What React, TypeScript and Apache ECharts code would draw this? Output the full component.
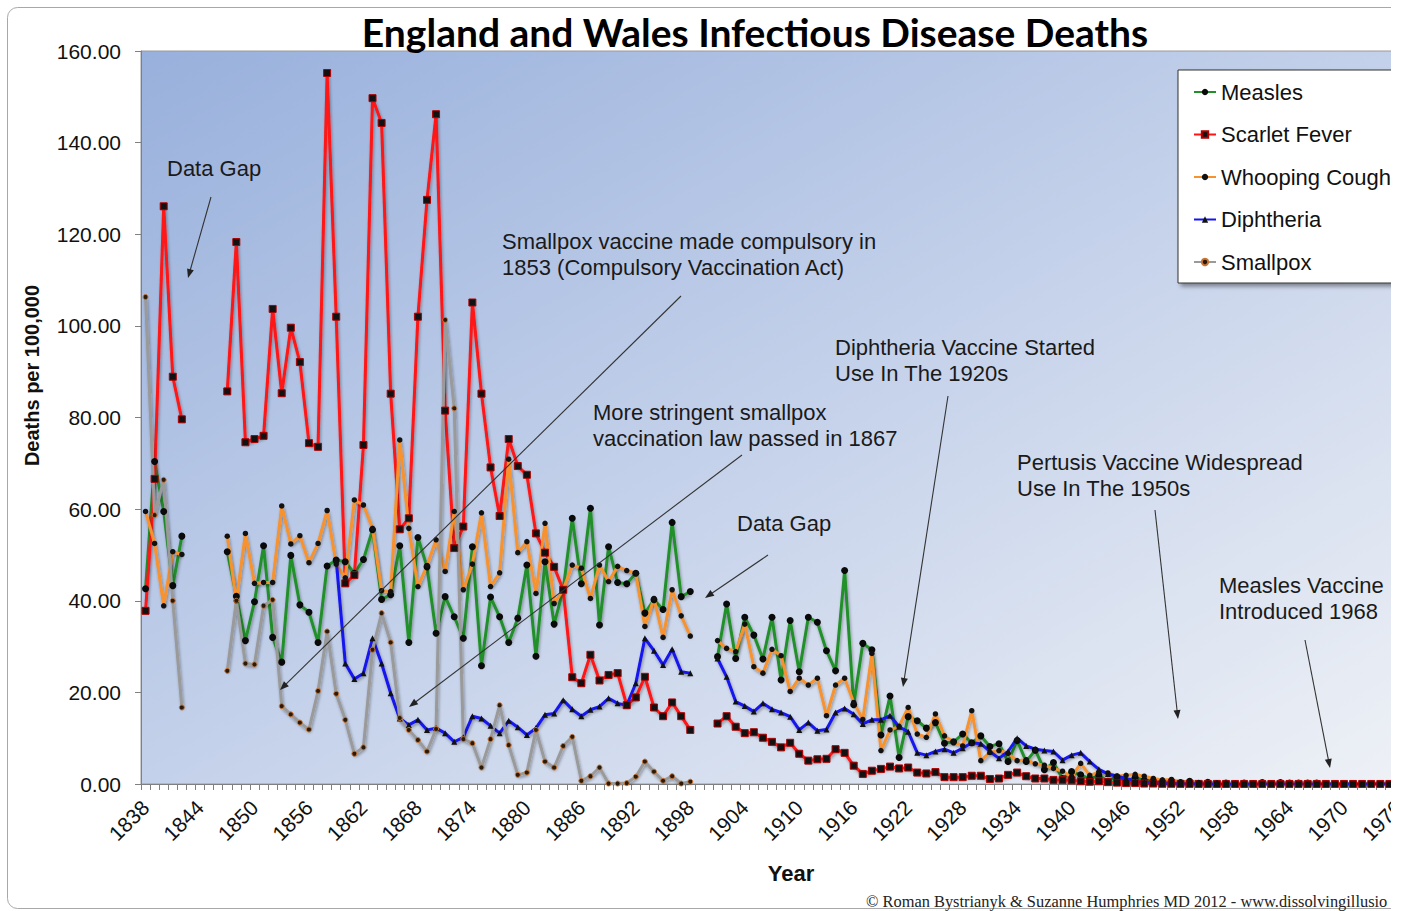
import React, { useEffect, useRef } from "react";
import * as echarts from "echarts";

// ---------- categories ----------
const FIRST_YEAR = 1838;
const LAST_YEAR = 1976;
const YEARS: string[] = [];
for (let y = FIRST_YEAR; y <= LAST_YEAR; y++) YEARS.push(String(y));

const Y_MIN = 0;
const Y_MAX = 160;
const Y_STEP = 20;

// gaps in the record
const GAP_1843_1846 = [null, null, null, null];
const GAP_1899_1900 = [null, null];
const NO_DIPHTHERIA_1838_1858 = new Array(21).fill(null);

// ---------- Measles ----------
const MEASLES_1838_1842 = [42.6, 70.4, 59.5, 43.3, 54.1];
const MEASLES_1847_1898 = [
  50.7, 41.0, 31.3, 39.8, 52.0, 32.0, 26.6, 49.9, 39.1, 37.5,
  30.9, 47.6, 48.9, 48.5, 46.0, 49.0, 55.5, 40.3, 41.3, 52.0,
  30.9, 53.8, 47.4, 32.9, 40.9, 36.5, 31.8, 51.8, 25.8, 40.8,
  36.5, 30.9, 36.2, 47.8, 27.9, 48.5, 34.9, 42.4, 58.0, 43.7,
  60.2, 34.7, 51.8, 44.0, 43.7, 46.0, 37.3, 40.2, 38.1, 57.1,
  40.9, 42.0,
];
const MEASLES_1901_1976 = [
  27.8, 39.3, 27.4, 36.4, 32.5, 27.3, 36.4, 22.7, 35.7, 24.5,
  36.4, 35.3, 29.1, 24.7, 46.6, 17.3, 30.7, 29.3, 10.7, 19.2,
  5.8, 14.7, 13.8, 12.2, 13.4, 8.9, 9.2, 10.9, 9.0, 10.5,
  8.2, 8.8, 4.9, 9.5, 4.9, 7.4, 3.1, 4.7, 1.2, 2.7,
  2.0, 1.1, 1.9, 0.6, 1.6, 0.5, 1.4, 0.8, 0.7, 0.5,
  0.7, 0.3, 0.6, 0.1, 0.4, 0.1, 0.2, 0.1, 0.2, 0.1,
  0.3, 0.1, 0.3, 0.2, 0.2, 0.2, 0.2, 0.1, 0.1, 0.1,
  0.1, 0.1, 0.05, 0.05, 0.03, 0.03,
];

// ---------- Scarlet Fever ----------
const SCARLET_1838_1842 = [37.8, 66.6, 126.1, 88.9, 79.6];
const SCARLET_1847_1898 = [
  85.7, 118.3, 74.6, 75.3, 76.0, 103.7, 85.3, 99.6, 92.1, 74.4,
  73.6, 155.2, 102.0, 43.8, 45.6, 74.0, 149.7, 144.3, 85.2, 55.6,
  58.0, 102.0, 127.5, 146.2, 81.5, 51.5, 56.2, 105.1, 85.2, 69.1,
  58.5, 75.3, 69.4, 67.5, 54.7, 50.5, 47.4, 42.4, 23.3, 22.0,
  28.2, 22.6, 23.8, 24.2, 17.2, 18.9, 23.4, 16.7, 14.8, 17.8,
  14.8, 11.8,
];
const SCARLET_1901_1976 = [
  13.2, 14.8, 12.5, 11.1, 11.3, 10.1, 9.2, 8.0, 9.0, 6.6,
  5.1, 5.4, 5.5, 7.6, 6.8, 4.0, 2.2, 2.9, 3.3, 3.8,
  3.4, 3.6, 2.5, 2.3, 2.6, 1.5, 1.5, 1.5, 1.8, 1.8,
  1.1, 1.2, 2.0, 2.5, 1.7, 1.2, 1.2, 0.9, 0.9, 0.8,
  0.6, 0.5, 0.6, 0.4, 0.3, 0.2, 0.2, 0.1, 0.1, 0.05,
  0.05, 0.03, 0.03, 0.02, 0.02, 0.02, 0.01, 0.01, 0.01, 0.01,
  0.01, 0.01, 0.01, 0.01, 0.01, 0.01, 0.01, 0.01, 0.01, 0.01,
  0.01, 0.01, 0.01, 0.01, 0.01, 0.01,
];

// ---------- Whooping Cough ----------
const WHOOPING_1838_1842 = [59.5, 52.5, 38.9, 50.7, 50.1];
const WHOOPING_1847_1898 = [
  54.1, 40.0, 54.7, 43.8, 44.0, 44.0, 60.7, 52.4, 54.2, 48.3,
  52.5, 59.7, 48.0, 45.0, 62.0, 60.9, 55.8, 42.2, 42.0, 75.1,
  55.8, 43.1, 47.7, 53.3, 46.4, 59.5, 42.4, 48.0, 59.2, 43.1,
  46.1, 70.9, 50.5, 52.9, 41.6, 56.9, 39.4, 42.4, 47.8, 47.1,
  40.5, 47.8, 44.2, 47.5, 46.6, 46.0, 34.4, 40.5, 32.0, 42.4,
  36.7, 32.3,
];
const WHOOPING_1901_1976 = [
  31.3, 29.6, 28.9, 34.9, 25.6, 24.2, 29.4, 28.0, 20.2, 23.1,
  21.6, 23.1, 14.9, 21.6, 23.1, 17.8, 14.1, 28.5, 7.3, 11.8,
  12.6, 16.7, 10.9, 10.2, 15.3, 10.5, 9.2, 8.3, 16.0, 5.1,
  6.9, 7.3, 6.7, 5.1, 5.3, 4.4, 4.1, 3.4, 2.8, 1.6,
  4.5, 1.9, 2.6, 2.4, 1.7, 1.9, 2.1, 1.7, 1.2, 0.9,
  1.0, 0.4, 0.6, 0.3, 0.2, 0.2, 0.2, 0.1, 0.1, 0.1,
  0.05, 0.05, 0.05, 0.05, 0.05, 0.05, 0.05, 0.05, 0.05, 0.05,
  0.05, 0.05, 0.05, 0.05, 0.05, 0.05,
];

// ---------- Diphtheria ----------
const DIPHTHERIA_1859_1898 = [
  48.9, 26.3, 22.9, 24.2, 31.8, 26.3, 19.8, 14.3, 12.9, 14.0,
  11.8, 12.2, 11.1, 9.2, 10.2, 14.8, 14.3, 12.7, 11.1, 13.8,
  12.4, 10.7, 12.2, 15.1, 15.4, 18.3, 16.3, 14.8, 16.2, 16.9,
  18.7, 17.6, 17.2, 22.0, 31.8, 29.1, 26.0, 29.4, 24.5, 24.2,
];
const DIPHTHERIA_1901_1976 = [
  27.4, 23.4, 18.0, 17.0, 15.8, 17.6, 16.3, 15.6, 14.7, 11.8,
  13.4, 11.6, 11.9, 15.6, 16.5, 15.2, 13.1, 14.0, 14.0, 14.9,
  12.5, 11.4, 6.8, 6.3, 7.1, 7.6, 6.8, 7.8, 9.0, 8.8,
  7.1, 5.6, 7.1, 10.0, 8.3, 7.6, 7.3, 7.1, 5.2, 6.3,
  6.8, 4.9, 3.2, 2.2, 1.7, 1.2, 0.6, 0.4, 0.2, 0.1,
  0.1, 0.05, 0.05, 0.03, 0.03, 0.02, 0.02, 0.01, 0.01, 0.01,
  0.01, 0.01, 0.01, 0.01, 0.01, 0.01, 0.01, 0.01, 0.01, 0.01,
  0.01, 0.01, 0.01, 0.01, 0.01, 0.01,
];

// ---------- Smallpox ----------
const SMALLPOX_1838_1842 = [106.3, 58.7, 66.4, 40.0, 16.7];
const SMALLPOX_1847_1898 = [
  24.7, 40.0, 26.3, 26.1, 38.9, 40.2, 17.0, 15.2, 13.4, 11.9,
  20.3, 33.3, 19.7, 14.0, 6.6, 8.0, 29.3, 37.3, 30.9, 14.4,
  11.8, 9.6, 7.1, 12.0, 101.3, 82.0, 9.8, 8.9, 3.6, 9.8,
  17.2, 8.5, 2.0, 2.5, 11.8, 4.9, 3.6, 8.3, 10.3, 0.7,
  1.7, 3.6, 0.1, 0.1, 0.2, 1.6, 4.9, 2.7, 0.7, 1.7,
  0.1, 0.5,
];

const MEASLES = [...MEASLES_1838_1842, ...GAP_1843_1846, ...MEASLES_1847_1898, ...GAP_1899_1900, ...MEASLES_1901_1976];
const SCARLET = [...SCARLET_1838_1842, ...GAP_1843_1846, ...SCARLET_1847_1898, ...GAP_1899_1900, ...SCARLET_1901_1976];
const WHOOPING = [...WHOOPING_1838_1842, ...GAP_1843_1846, ...WHOOPING_1847_1898, ...GAP_1899_1900, ...WHOOPING_1901_1976];
const DIPHTHERIA = [...NO_DIPHTHERIA_1838_1858, ...DIPHTHERIA_1859_1898, ...GAP_1899_1900, ...DIPHTHERIA_1901_1976];
const SMALLPOX = [...SMALLPOX_1838_1842, ...GAP_1843_1846, ...SMALLPOX_1847_1898];

const FONT = '"Liberation Sans", Arial, sans-serif';

// annotations: [text, x, firstLineCenterY]
const NOTES: [string, number, number][] = [
  ["Data Gap", 167, 168],
  ["Smallpox vaccine made compulsory in\n1853 (Compulsory Vaccination Act)", 502, 241],
  ["More stringent smallpox\nvaccination law passed in 1867", 593, 412],
  ["Data Gap", 737, 523],
  ["Diphtheria Vaccine Started\nUse In The 1920s", 835, 347],
  ["Pertusis Vaccine Widespread\nUse In The 1950s", 1017, 462],
  ["Measles Vaccine\nIntroduced 1968", 1219, 585],
];
// arrows: [tailX, tailY, headX, headY]
const ARROWS: [number, number, number, number][] = [
  [211, 197, 188, 278],
  [681, 296, 280, 690],
  [742, 455, 409, 707],
  [768, 555, 705, 598],
  [948, 396, 903, 687],
  [1155, 510, 1178, 719],
  [1305, 640, 1330, 768],
];

function arrowElements(a: [number, number, number, number]) {
  const [x1, y1, x2, y2] = a;
  const dx = x2 - x1;
  const dy = y2 - y1;
  const len = Math.sqrt(dx * dx + dy * dy);
  const ux = dx / len;
  const uy = dy / len;
  const nx = -uy;
  const ny = ux;
  const hl = 9;
  const hw = 3.5;
  const bx = x2 - ux * hl;
  const by = y2 - uy * hl;
  return [
    {
      type: "line",
      z: 100,
      shape: { x1, y1, x2: bx + ux * 2, y2: by + uy * 2 },
      style: { stroke: "#333", lineWidth: 1.1 },
    },
    {
      type: "polygon",
      z: 100,
      shape: {
        points: [
          [x2, y2],
          [bx + nx * hw, by + ny * hw],
          [bx - nx * hw, by - ny * hw],
        ],
      },
      style: { fill: "#222" },
    },
  ];
}

const lineShadow = {
  shadowColor: "rgba(0,0,0,0.35)",
  shadowBlur: 3,
  shadowOffsetX: 1,
  shadowOffsetY: 2,
};

export default function App() {
  const ref = useRef<HTMLDivElement>(null);

  useEffect(() => {
    if (!ref.current) return;
    const chart = echarts.init(ref.current, null, { renderer: "svg" });

    const bg = new echarts.graphic.LinearGradient(0, 0, 1, 1, [
      { offset: 0, color: "#98b0dc" },
      { offset: 0.5, color: "#c4d1ea" },
      { offset: 1, color: "#eef1f6" },
    ]);

    const graphics: any[] = [
      {
        type: "rect",
        z: -10,
        shape: { x: 7.5, y: 7.5, width: 1500, height: 901, r: 10 },
        style: { fill: "none", stroke: "#a8a8a8", lineWidth: 1 },
      },
      ...NOTES.map(([t, x, y]) => ({
        type: "text",
        z: 100,
        x,
        y: y - 13,
        style: {
          text: t,
          font: `22px ${FONT}`,
          fill: "#1a1a1a",
          lineHeight: 26,
          verticalAlign: "top",
          align: "left",
        },
      })),
      ...ARROWS.flatMap((a) => arrowElements(a)),
      {
        type: "text",
        z: 100,
        x: 866,
        y: 901,
        style: {
          text: "© Roman Bystrianyk & Suzanne Humphries MD 2012 - www.dissolvingillusio",
          font: '16.4px "Liberation Serif", serif',
          fill: "#222",
          verticalAlign: "middle",
        },
      },
    ];

    const option: any = {
      animation: false,
      title: {
        text: "England and Wales Infectious Disease Deaths",
        left: 755,
        top: 12,
        padding: 0,
        textAlign: "center",
        textStyle: {
          fontFamily: "Lato, sans-serif",
          fontWeight: "bold",
          fontSize: 39,
          color: "#000",
        },
      },
      legend: {
        orient: "vertical",
        left: 1178,
        top: 70,
        padding: [11, 60, 10, 15],
        itemGap: 20.5,
        itemWidth: 22,
        itemHeight: 8,
        backgroundColor: "#fff",
        borderColor: "#333",
        borderWidth: 1,
        shadowColor: "rgba(0,0,0,0.4)",
        shadowBlur: 4,
        shadowOffsetX: 3,
        shadowOffsetY: 3,
        textStyle: { fontFamily: FONT, fontSize: 22, color: "#111" },
        data: ["Measles", "Scarlet Fever", "Whooping Cough", "Diphtheria", "Smallpox"],
      },
      grid: {
        left: 141,
        top: 51,
        bottom: 127,
        right: 27,
        show: true,
        backgroundColor: bg,
        borderColor: "#9a9a9a",
        borderWidth: 1,
      },
      xAxis: {
        type: "category",
        data: YEARS,
        boundaryGap: true,
        axisLine: { show: true, lineStyle: { color: "#808080", width: 1 } },
        axisTick: { show: true, interval: 0, length: 6, lineStyle: { color: "#808080" } },
        axisLabel: {
          interval: 5,
          rotate: 45,
          fontFamily: FONT,
          fontSize: 21,
          color: "#111",
          margin: 20,
        },
        splitLine: { show: false },
        name: "Year",
        nameLocation: "middle",
        nameGap: 78,
        nameTextStyle: {
          fontFamily: FONT,
          fontWeight: "bold",
          fontSize: 22,
          color: "#111",
          padding: [0, 0, 0, 38],
        },
      },
      yAxis: {
        type: "value",
        min: Y_MIN,
        max: Y_MAX,
        interval: Y_STEP,
        axisLine: { show: true, lineStyle: { color: "#808080", width: 1 } },
        axisTick: { show: true, length: 6, lineStyle: { color: "#808080" } },
        splitLine: { show: false },
        axisLabel: {
          formatter: (v: number) => v.toFixed(2),
          fontFamily: FONT,
          fontSize: 21,
          color: "#111",
          margin: 20,
        },
        name: "Deaths per 100,000",
        nameLocation: "middle",
        nameRotate: 90,
        nameGap: 99,
        nameTextStyle: {
          fontFamily: FONT,
          fontWeight: "bold",
          fontSize: 20,
          color: "#111",
          padding: [0, 0, 0, 84],
        },
      },
      series: [
        {
          name: "Measles",
          type: "line",
          data: MEASLES,
          symbol: "circle",
          symbolSize: 7,
          showAllSymbol: true,
          connectNulls: false,
          lineStyle: { color: "#22902a", width: 3, ...lineShadow },
          itemStyle: { color: "#0a0a0a" },
        },
        {
          name: "Scarlet Fever",
          type: "line",
          data: SCARLET,
          symbol: "rect",
          symbolSize: 7,
          showAllSymbol: true,
          connectNulls: false,
          lineStyle: { color: "#ff1414", width: 3, ...lineShadow },
          itemStyle: { color: "#111", borderColor: "#b00000", borderWidth: 1 },
        },
        {
          name: "Whooping Cough",
          type: "line",
          data: WHOOPING,
          symbol: "circle",
          symbolSize: 5.5,
          showAllSymbol: true,
          connectNulls: false,
          lineStyle: { color: "#f7922e", width: 3, ...lineShadow },
          itemStyle: { color: "#111" },
        },
        {
          name: "Diphtheria",
          type: "line",
          data: DIPHTHERIA,
          symbol: "triangle",
          symbolSize: 6,
          showAllSymbol: true,
          connectNulls: false,
          lineStyle: { color: "#1414ee", width: 3, ...lineShadow },
          itemStyle: { color: "#111" },
        },
        {
          name: "Smallpox",
          type: "line",
          data: SMALLPOX,
          symbol: "circle",
          symbolSize: 5,
          showAllSymbol: true,
          connectNulls: false,
          lineStyle: { color: "#9a9a9a", width: 3, ...lineShadow },
          itemStyle: { color: "#2a1a0a", borderColor: "#c87533", borderWidth: 1 },
        },
      ],
      graphic: graphics,
    };

    chart.setOption(option);
    return () => chart.dispose();
  }, []);

  return (
    <div
      style={{
        position: "fixed",
        left: 0,
        top: 0,
        width: 1391,
        height: 911,
        overflow: "hidden",
        background: "#fff",
      }}
    >
      <div ref={ref} style={{ width: 1430, height: 911 }} />
    </div>
  );
}
